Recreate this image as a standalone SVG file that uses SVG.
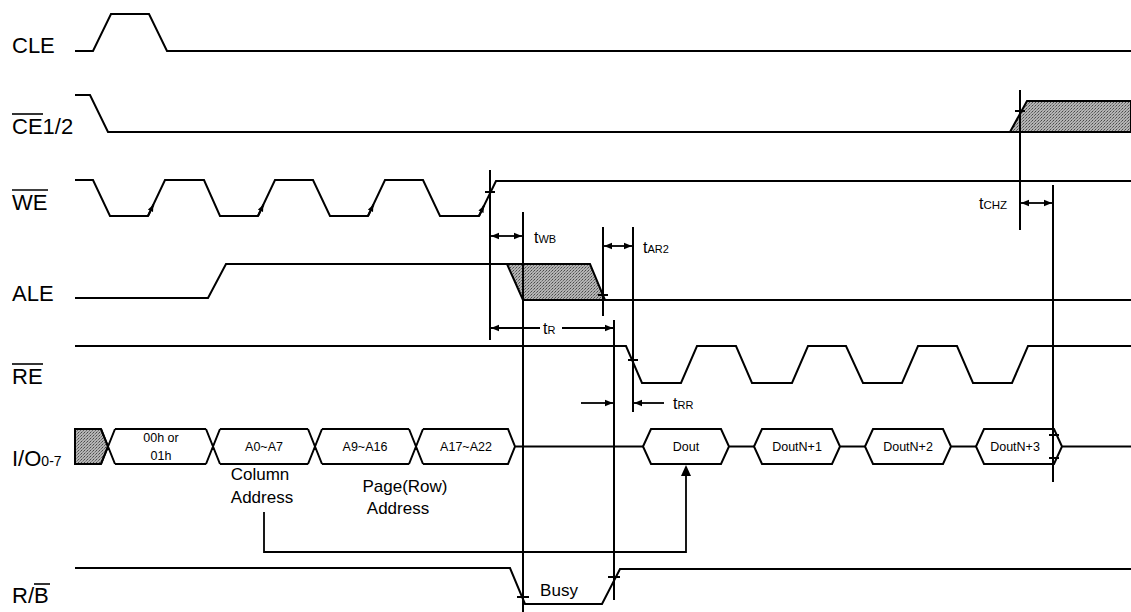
<svg xmlns="http://www.w3.org/2000/svg" width="1131" height="612" viewBox="0 0 1131 612">
<style>
.w{fill:none;stroke:#000;stroke-width:2;stroke-linejoin:miter}
.v{fill:none;stroke:#000;stroke-width:2}
.d{fill:none;stroke:#000;stroke-width:1.8}
.ol{stroke:#000;stroke-width:1.6}
.sh{fill:url(#stip);stroke:#000;stroke-width:2}
.lbl{font-family:"Liberation Sans",Arial,sans-serif;font-size:22px;fill:#000}
.bx{font-family:"Liberation Sans",Arial,sans-serif;font-size:12.5px;fill:#000;text-anchor:middle}
.cap{font-family:"Liberation Sans",Arial,sans-serif;font-size:17px;fill:#000;text-anchor:middle}
.t{font-family:"Liberation Sans",Arial,sans-serif;font-size:16px;fill:#000}
.s{font-size:11px}
</style>
<defs>
<pattern id="stip" width="3" height="3" patternUnits="userSpaceOnUse">
<rect width="3" height="3" fill="#b4b4b4"/>
<rect width="1" height="1" fill="#4a4a4a"/>
<rect x="2" y="1" width="1" height="1" fill="#6a6a6a"/>
<rect x="1" y="2" width="1" height="1" fill="#888"/>
</pattern>
<marker id="ah" viewBox="0 0 10 10" refX="10" refY="5" markerWidth="8" markerHeight="8" markerUnits="userSpaceOnUse" orient="auto-start-reverse">
<path d="M0,1 L10,5 L0,9 Z" fill="#000"/>
</marker>
<marker id="ahs" viewBox="0 0 10 10" refX="10" refY="5" markerWidth="7" markerHeight="7" markerUnits="userSpaceOnUse" orient="auto">
<path d="M0,1 L10,5 L0,9 Z" fill="#000"/>
</marker>
</defs>

<g id="sig-CLE">
<text class="lbl" x="12" y="53">CLE</text>
<path class="w" d="M75,51 L93,51 L111,14 L149,14 L167,51 L1131,51"/>
</g>

<g id="sig-CE">
<text class="lbl" x="12" y="134">CE1/2</text>
<line class="ol" x1="12" y1="114" x2="43" y2="114"/>
<path class="w" d="M75,95 L90,95 L108,132 L1131,132"/>
<path class="sh" d="M1010,132 L1027,101 L1131,101 L1131,132 Z"/>
</g>

<g id="sig-WE">
<text class="lbl" x="12" y="210">WE</text>
<line class="ol" x1="12" y1="190" x2="48" y2="190"/>
<path class="w" d="M75,180 L93,180 L110,216 L148,216 L165,180 L204,180 L220,216 L258,216 L275,180 L313,180 L330,216 L368,216 L385,180 L423,180 L440,216 L479,216 L496,181 L1131,181"/>
<line class="w" x1="148" y1="216" x2="153.5" y2="204.5" marker-end="url(#ahs)"/>
<line class="w" x1="258" y1="216" x2="263.5" y2="204.5" marker-end="url(#ahs)"/>
<line class="w" x1="368" y1="216" x2="373.5" y2="204.5" marker-end="url(#ahs)"/>
<line class="w" x1="479" y1="216" x2="484" y2="205.5" marker-end="url(#ahs)"/>
</g>

<g id="sig-ALE">
<text class="lbl" x="12" y="301">ALE</text>
<path class="w" d="M75,298 L208,298 L226,264 L507,264"/>
<path class="sh" d="M507,264 L590,264 L605,300 L523,300 Z"/>
<path class="w" d="M605,300 L1131,300"/>
</g>

<g id="sig-RE">
<text class="lbl" x="12" y="384">RE</text>
<line class="ol" x1="12" y1="364" x2="43" y2="364"/>
<path class="w" d="M75,346 L626,346 L642,383 L681,383 L697,346 L736,346 L752,383 L792,383 L808,346 L846,346 L863,383 L902,383 L918,346 L957,346 L973,383 L1012,383 L1028,346 L1131,346"/>
</g>

<g id="sig-IO">
<text class="lbl" x="12" y="466">I/O<tspan font-size="14px">0-7</tspan></text>
<path class="sh" d="M75,429 L101,429 L108,446.5 L101,464 L75,464 Z"/>
<path class="w" d="M101,429 L115,464 M101,464 L115,429 M115,429 L206,429 M115,464 L206,464 M206,429 L220,464 M206,464 L220,429 M220,429 L308,429 M220,464 L308,464 M308,429 L322,464 M308,464 L322,429 M322,429 L409,429 M322,464 L409,464 M409,429 L423,464 M409,464 L423,429 M423,429 L508,429 L515,446.5 L508,464 L423,464 M515,446.5 L643,446.5"/>
<text class="bx" x="161" y="442">00h or</text>
<text class="bx" x="161" y="460">01h</text>
<text class="bx" x="264" y="451">A0~A7</text>
<text class="bx" x="365" y="451">A9~A16</text>
<text class="bx" x="466" y="451">A17~A22</text>
<path class="w" d="M643,446.5 L651,429 L721,429 L729,446.5 L721,464 L651,464 Z M729,446.5 L754,446.5"/>
<path class="w" d="M754,446.5 L762,429 L832,429 L840,446.5 L832,464 L762,464 Z M840,446.5 L865,446.5"/>
<path class="w" d="M865,446.5 L873,429 L943,429 L951,446.5 L943,464 L873,464 Z M951,446.5 L976,446.5"/>
<path class="w" d="M976,446.5 L984,429 L1054,429 L1062,446.5 L1054,464 L984,464 Z M1062,446.5 L1131,446.5"/>
<path class="w" d="M1049,435 L1059,435 M1049,458 L1059,458"/>
<text class="bx" x="686" y="451">Dout</text>
<text class="bx" x="797" y="451">DoutN+1</text>
<text class="bx" x="908" y="451">DoutN+2</text>
<text class="bx" x="1015" y="451">DoutN+3</text>
<text class="cap" x="260" y="480">Column</text>
<text class="cap" x="262" y="503">Address</text>
<text class="cap" x="405" y="492">Page(Row)</text>
<text class="cap" x="398" y="514">Address</text>
</g>

<g id="sig-RB">
<text class="lbl" x="12" y="603">R/B</text>
<line class="ol" x1="34" y1="584" x2="50" y2="584"/>
<path class="w" d="M75,568 L510,568 L525,604 L602,604 L620,569 L1131,569"/>
<text class="cap" x="559" y="596">Busy</text>
</g>

<g id="connectors">
<line class="v" x1="490" y1="170" x2="490" y2="340"/>
<line class="v" x1="523" y1="212" x2="523" y2="612"/>
<line class="v" x1="603" y1="227" x2="603" y2="316"/>
<line class="v" x1="633" y1="227" x2="633" y2="412"/>
<line class="v" x1="614" y1="320" x2="614" y2="600"/>
<line class="v" x1="1020" y1="90" x2="1020" y2="230"/>
<line class="v" x1="1053" y1="185" x2="1053" y2="482"/>
<path class="d" d="M485,192 L495,192 M598,295 L608,295 M628,360 L638,360 M1015,111 L1025,111 M517,597 L529,597 M608,577 L620,577"/>
<line class="d" x1="491" y1="236" x2="522" y2="236" marker-start="url(#ah)" marker-end="url(#ah)"/>
<text class="t" x="534" y="243">t<tspan class="s">WB</tspan></text>
<line class="d" x1="604" y1="246" x2="632" y2="246" marker-start="url(#ah)" marker-end="url(#ah)"/>
<text class="t" x="643" y="253">t<tspan class="s">AR2</tspan></text>
<line class="d" x1="491" y1="328" x2="540" y2="328" marker-start="url(#ah)"/>
<line class="d" x1="562" y1="328" x2="613" y2="328" marker-end="url(#ah)"/>
<text class="t" x="543" y="334">t<tspan class="s">R</tspan></text>
<line class="d" x1="581" y1="403" x2="613" y2="403" marker-end="url(#ah)"/>
<line class="d" x1="664" y1="403" x2="634" y2="403" marker-end="url(#ah)"/>
<text class="t" x="673" y="409">t<tspan class="s">RR</tspan></text>
<line class="d" x1="1021" y1="203" x2="1052" y2="203" marker-start="url(#ah)" marker-end="url(#ah)"/>
<text class="t" x="979" y="209" font-size="15px">t<tspan font-size="11.5px">CHZ</tspan></text>
<path class="d" d="M264,512 L264,552 L686,552 L686,474"/>
<path d="M681,476 L686,465 L691,476 Z" fill="#000"/>
</g>
</svg>
